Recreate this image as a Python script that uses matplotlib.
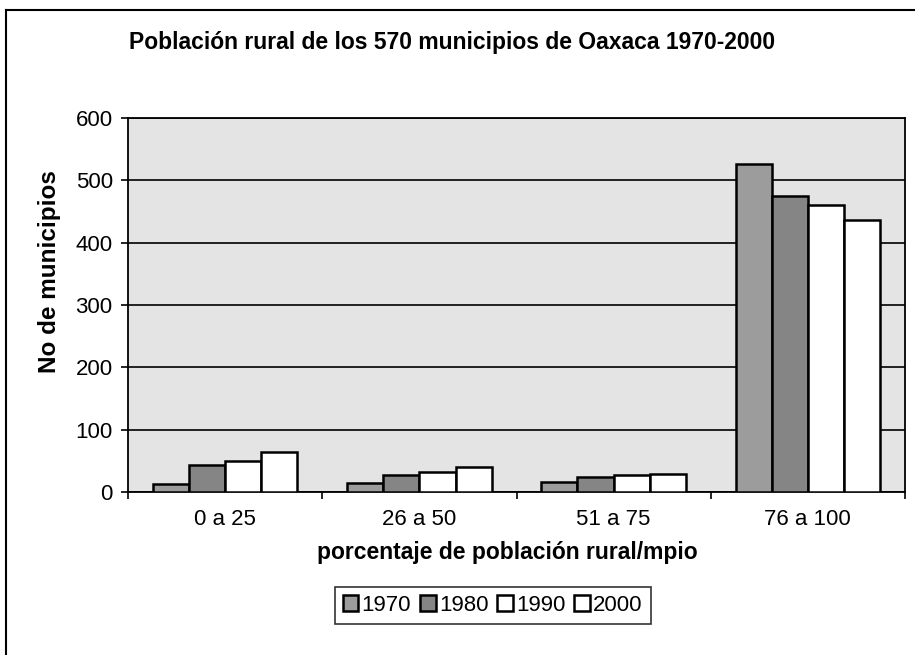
import matplotlib.pyplot as plt
import matplotlib.lines as mlines
import numpy as np

# datos
categorias = ['0 a 25', '26 a 50', '51 a 75', '76 a 100']
anios = ['1970', '1980', '1990', '2000']
v1970 = [13, 15, 16, 526]
v1980 = [43, 28, 24, 475]
v1990 = [50, 32, 27, 461]
v2000 = [64, 40, 29, 437]
series = [v1970, v1980, v1990, v2000]
colores = ['#9c9c9c', '#858585', 'white', 'white']

plt.rcParams['font.family'] = ['Liberation Sans', 'DejaVu Sans']

W, H = 915, 655
fig = plt.figure(figsize=(W / 100, H / 100), dpi=100)
fig.patch.set_facecolor('white')
ax = fig.add_axes([128 / W, 1 - 492 / H, 777 / W, 374 / H])
ax.set_facecolor('#e4e4e4')

x = np.arange(len(categorias))
w = 0.186
for i, (vals, col) in enumerate(zip(series, colores)):
    ax.bar(x + (i - 1.5) * w, vals, w, color=col, edgecolor='black',
           linewidth=1.8, label=anios[i], zorder=3)

ax.set_xlim(-0.5, 3.5)
ax.set_ylim(0, 600)
ax.set_yticks(range(0, 601, 100))
ax.yaxis.grid(True, color='black', linewidth=1.2, zorder=1)
ax.set_axisbelow(True)

ax.set_xticks(x)
ax.set_xticklabels(categorias)
ax.set_xticks(np.arange(-0.5, 4, 1), minor=True)
ax.tick_params(axis='x', which='major', length=0, pad=12, labelsize=16)
ax.tick_params(axis='x', which='minor', length=5, width=1.2, direction='out')
ax.tick_params(axis='y', length=5, width=1.2, pad=6, labelsize=16)
for s in ax.spines.values():
    s.set_color('black')
    s.set_linewidth(1.3)

fig.text(452 / W, 1 - 42 / H, 'Población rural de los 570 municipios de Oaxaca 1970-2000',
         ha='center', va='center', fontsize=16.5, fontweight='bold')
fig.text(50 / W, 1 - 272 / H, 'No de municipios', rotation=90,
         ha='center', va='center', fontsize=17.5, fontweight='bold')
fig.text(507 / W, 1 - 553 / H, 'porcentaje de población rural/mpio',
         ha='center', va='center', fontsize=16.5, fontweight='bold')

leg = fig.legend(loc='upper left', bbox_to_anchor=(335 / W, 1 - 587 / H),
                 ncol=4, fontsize=16, frameon=True, fancybox=False,
                 handlelength=0.7, handleheight=0.7, handletextpad=0.15,
                 columnspacing=0.4, borderpad=0.35, borderaxespad=0)
leg.get_frame().set_edgecolor('black')
leg.get_frame().set_linewidth(1.2)

# marco exterior
fig.add_artist(mlines.Line2D([6 / W, 6 / W], [0, 1 - 10 / H], color='black', lw=1.5))
fig.add_artist(mlines.Line2D([6 / W, 1], [1 - 10 / H, 1 - 10 / H], color='black', lw=1.5))

fig.savefig('out.png', dpi=100)
